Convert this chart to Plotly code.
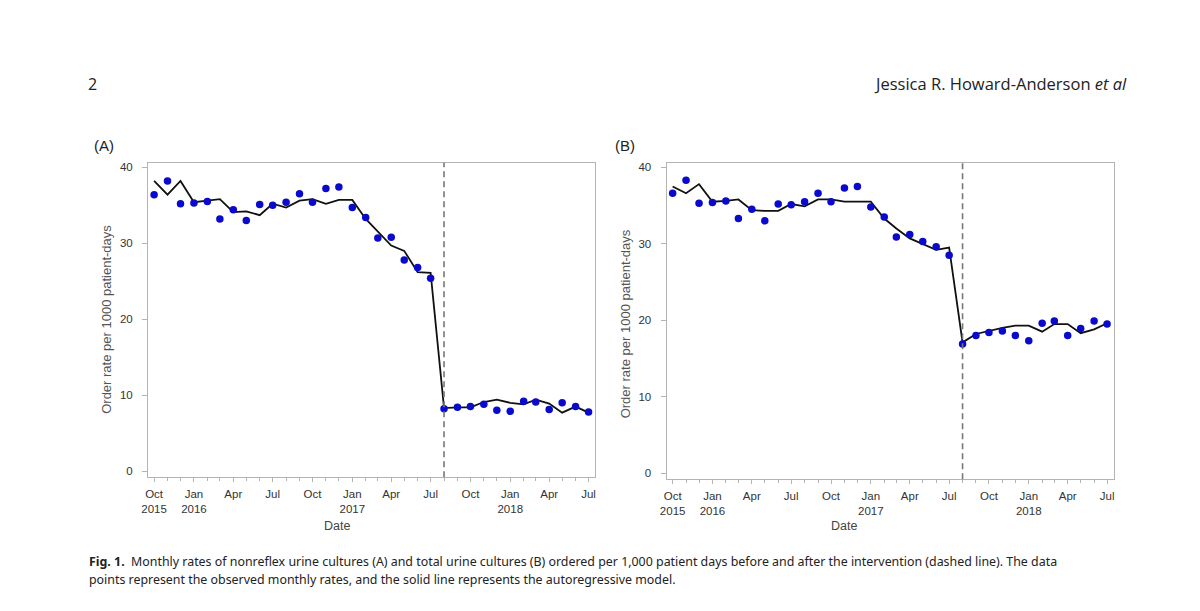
import plotly.graph_objects as go

# ---- data ----
months = ["2015-10-01", "2015-11-01", "2015-12-01", "2016-01-01", "2016-02-01", "2016-03-01",
          "2016-04-01", "2016-05-01", "2016-06-01", "2016-07-01", "2016-08-01", "2016-09-01",
          "2016-10-01", "2016-11-01", "2016-12-01", "2017-01-01", "2017-02-01", "2017-03-01",
          "2017-04-01", "2017-05-01", "2017-06-01", "2017-07-01", "2017-08-01", "2017-09-01",
          "2017-10-01", "2017-11-01", "2017-12-01", "2018-01-01", "2018-02-01", "2018-03-01",
          "2018-04-01", "2018-05-01", "2018-06-01", "2018-07-01"]

a_observed = [36.4, 38.2, 35.2, 35.3, 35.5, 33.2, 34.4, 33.0, 35.1, 35.0, 35.4, 36.5,
              35.4, 37.2, 37.4, 34.7, 33.4, 30.7, 30.8, 27.8, 26.8, 25.4, 8.2, 8.4,
              8.5, 8.8, 8.0, 7.9, 9.2, 9.1, 8.1, 9.0, 8.5, 7.8]
a_model = [38.2, 36.4, 38.2, 35.4, 35.6, 35.8, 34.1, 34.2, 33.7, 35.2, 34.7, 35.6,
           35.8, 35.2, 35.7, 35.7, 33.2, 31.6, 29.7, 29.0, 26.2, 26.1, 8.3, 8.4,
           8.4, 9.1, 9.4, 9.0, 8.8, 9.4, 8.9, 7.7, 8.5, 7.7]

b_observed = [36.6, 38.3, 35.3, 35.4, 35.6, 33.3, 34.5, 33.0, 35.2, 35.1, 35.5, 36.6,
              35.5, 37.3, 37.5, 34.8, 33.5, 30.9, 31.2, 30.3, 29.6, 28.5, 16.9, 18.0,
              18.4, 18.6, 18.0, 17.3, 19.6, 19.9, 18.0, 18.9, 19.9, 19.5]
b_model = [37.5, 36.6, 37.8, 35.5, 35.6, 35.8, 34.4, 34.3, 34.3, 35.2, 34.9, 35.8,
           35.8, 35.5, 35.5, 35.5, 33.3, 32.0, 30.7, 30.0, 29.2, 29.5, 17.1, 18.2,
           18.6, 19.0, 19.3, 19.3, 18.5, 19.5, 19.5, 18.3, 18.8, 19.6]

intervention = "2017-08-01"

tick_dates = ["2015-10-01", "2016-01-01", "2016-04-01", "2016-07-01", "2016-10-01", "2017-01-01",
              "2017-04-01", "2017-07-01", "2017-10-01", "2018-01-01", "2018-04-01", "2018-07-01"]
tick_labels = ["Oct<br>2015", "Jan<br>2016", "Apr", "Jul", "Oct", "Jan<br>2017",
               "Apr", "Jul", "Oct", "Jan<br>2018", "Apr", "Jul"]
y_ticks = [0, 10, 20, 30, 40]

# ---- styles ----
W, H = 1200, 611
FONT = "Liberation Sans, Arial, sans-serif"
AXIS_COL = "#b4b4b4"
TICK_FONT = dict(family=FONT, size=11.5, color="#333333")
DOT_COL = "#0a0acc"

fig = go.Figure()

panels = [
    dict(obs=a_observed, mod=a_model, xa="x", ya="y", xd=(142, 592), yd=(162, 477)),
    dict(obs=b_observed, mod=b_model, xa="x2", ya="y2", xd=(664, 1114), yd=(162, 479)),
]

for p in panels:
    fig.add_trace(go.Scatter(x=months, y=p["mod"], mode="lines", xaxis=p["xa"], yaxis=p["ya"],
                             line=dict(color="#111111", width=1.8), showlegend=False))
    fig.add_trace(go.Scatter(x=months, y=p["obs"], mode="markers", xaxis=p["xa"], yaxis=p["ya"],
                             marker=dict(color=DOT_COL, size=7.5), showlegend=False))

def xaxis_cfg(dom, anchor):
    return dict(domain=[dom[0] / W, dom[1] / W], anchor=anchor, type="date",
                range=["2015-09-17", "2018-07-16"],
                tickvals=tick_dates, ticktext=tick_labels, tickfont=TICK_FONT,
                ticks="outside", ticklen=4, tickcolor=AXIS_COL, ticklabelstandoff=2,
                minor=dict(dtick="M1", tick0="2015-10-01", ticks="outside", ticklen=3,
                           tickcolor=AXIS_COL, showgrid=False),
                showline=True, linecolor=AXIS_COL, linewidth=1, mirror=True,
                showgrid=False, zeroline=False, fixedrange=True)

def yaxis_cfg(dom, anchor):
    return dict(domain=[(H - dom[1]) / H, (H - dom[0]) / H], anchor=anchor,
                range=[-0.8, 40.6], tickvals=y_ticks, tickfont=TICK_FONT,
                ticks="outside", ticklen=5, tickcolor=AXIS_COL, ticklabelstandoff=7,
                showline=True, linecolor=AXIS_COL, linewidth=1, mirror=True,
                showgrid=False, zeroline=False, fixedrange=True)

fig.update_layout(
    width=W, height=H,
    margin=dict(l=0, r=0, t=0, b=0),
    paper_bgcolor="white", plot_bgcolor="white",
    xaxis=xaxis_cfg(panels[0]["xd"], "y"),
    yaxis=yaxis_cfg(panels[0]["yd"], "x"),
    xaxis2=xaxis_cfg(panels[1]["xd"], "y2"),
    yaxis2=yaxis_cfg(panels[1]["yd"], "x2"),
)

# intervention dashed lines
for xa, ya in [("x", "y"), ("x2", "y2")]:
    fig.add_shape(type="line", xref=xa, yref=f"{ya} domain", x0=intervention, x1=intervention,
                  y0=0, y1=1, line=dict(color="#777777", width=1.6, dash="6px,4px"))

def px_ann(text, x, y, size, color="#333333", family=FONT, xanchor="center", yanchor="middle",
           textangle=0, align="center"):
    fig.add_annotation(text=text, xref="paper", yref="paper", x=x / W, y=1 - y / H,
                       xanchor=xanchor, yanchor=yanchor, showarrow=False, textangle=textangle,
                       font=dict(family=family, size=size, color=color), align=align)

# axis titles
px_ann("Date", 332, 526, 12.5, color="#444444")
px_ann("Date", 843, 526, 12.5, color="#444444")
px_ann("Order rate per 1000 patient-days", 100, 319, 13, color="#555555", textangle=-90)
px_ann("Order rate per 1000 patient-days", 623, 323, 13, color="#555555", textangle=-90)

# panel labels
px_ann("(A)", 98, 145, 15, color="#222222")
px_ann("(B)", 622, 145, 15, color="#222222")

# page header
HDR = "Open Sans, Noto Sans, sans-serif"
px_ann("2", 80, 83, 16, color="#222222", family=HDR, xanchor="left")
px_ann("Jessica R. Howard-Anderson <i>et al</i>", 1130, 83, 16.5, color="#222222", family=HDR,
       xanchor="right")

# caption
CAP = "Noto Sans, sans-serif"
px_ann("<b>Fig. 1.</b>  Monthly rates of nonreflex urine cultures (A) and total urine cultures (B) ordered per 1,000 patient days before and after the intervention (dashed line). The data",
       81, 561, 12.4, color="#222222", family=CAP, xanchor="left")
px_ann("points represent the observed monthly rates, and the solid line represents the autoregressive model.",
       81, 579, 12.4, color="#222222", family=CAP, xanchor="left")

fig.write_html("out.html", config=dict(displayModeBar=False),
               post_script="document.body.style.margin='0';document.body.style.overflow='hidden';")
